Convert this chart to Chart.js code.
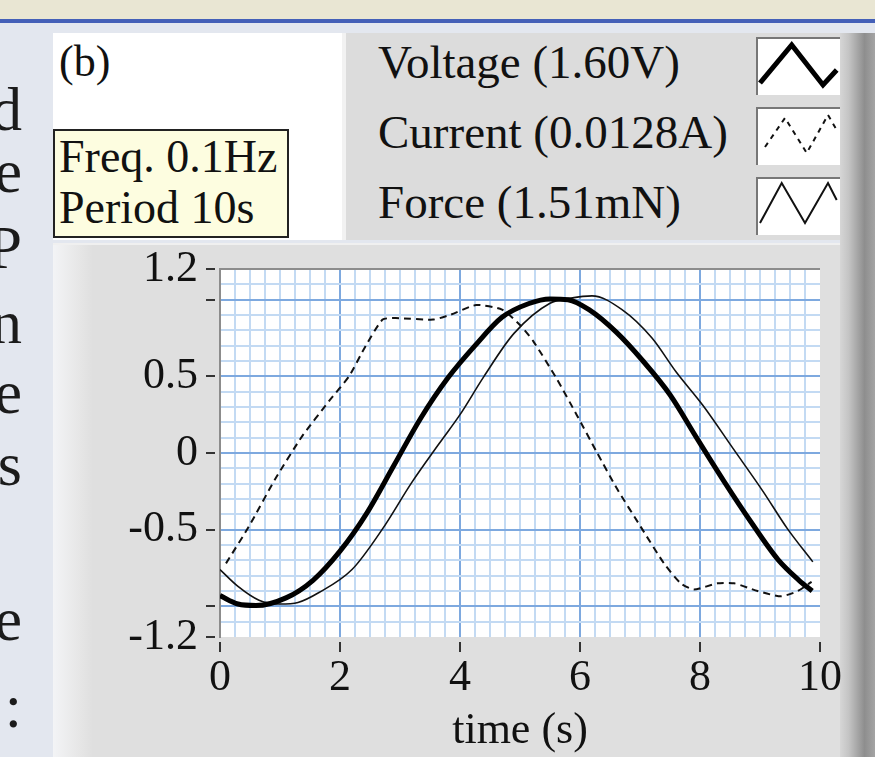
<!DOCTYPE html>
<html>
<head>
<meta charset="utf-8">
<script src="https://cdn.jsdelivr.net/npm/chart.js@4.4.1/dist/chart.umd.min.js"></script>
<style>
    body { margin:0; width:875px; height:757px; overflow:hidden; position:relative; background:#e3e7ef; font-family:"Liberation Serif","Times New Roman",serif; color:#111; }
    .abs { position:absolute; }
    .topband { left:0; top:0; width:875px; height:19px; background:#e9e6d3; }
    .blueline { left:0; top:19px; width:875px; height:4px; background:#4460b8; }
    .side { left:-40px; width:62px; text-align:right; font-size:62px; line-height:62px; color:#1b1b1b; }
    .white { left:53px; top:33px; width:289px; height:207px; background:#fff; }
    .tag { left:59px; top:40px; font-size:44px; line-height:44px; }
    .freq { left:53px; top:129px; width:232px; height:105px; background:#fdfde0; border:2px solid #222; }
    .freq div { position:absolute; left:4px; font-size:46px; line-height:51px; white-space:nowrap; }
    .legend { left:342px; top:33px; width:498px; height:207px; background:#dcdcdc; border-left:4px solid #f2f2f2; box-sizing:border-box; }
    .legtext { left:378px; font-size:47px; line-height:51px; white-space:nowrap; }
    .sample { left:756px; width:82px; height:56px; background:#fff; border-top:2px solid #777; border-left:2px solid #777; }
    .sample svg { position:absolute; left:-2px; top:-2px; overflow:visible; }
    .rbar { left:840px; top:33px; width:35px; height:724px; background:linear-gradient(to right,#d6d6d6 0%,#c4c4c4 25%,#8e8e8e 70%,#a4a4a4 100%); }
    .panel { left:53px; top:243px; width:787px; height:514px; background:linear-gradient(to right,#f3f4f6 0px,#e6e6e6 27px,#dfdfdf 40px); border-top:2px solid #f0f0f0; box-sizing:border-box; }
    #chart { position:absolute; left:53px; top:200px; }
</style>
</head>
<body>
    <div class="abs topband"></div>
    <div class="abs blueline"></div>
    <div id="side"></div>

    <div class="abs white"></div>
    <div class="abs tag">(b)</div>
    <div class="abs freq">
        <div style="top:0px">Freq. 0.1Hz</div>
        <div style="top:51px">Period 10s</div>
    </div>

    <div class="abs legend"></div>
    <div class="abs legtext" style="top:37px">Voltage (1.60V)</div>
    <div class="abs legtext" style="top:107px">Current (0.0128A)</div>
    <div class="abs legtext" style="top:177px">Force (1.51mN)</div>
    <div class="abs sample" style="top:37px"><svg width="84" height="58"><polyline points="4,46 35.7,8 67,48 80.7,33" fill="none" stroke="#000" stroke-width="5"/></svg></div>
    <div class="abs sample" style="top:107px"><svg width="84" height="58"><polyline points="9,40 29,11 50.7,46 72,8 80.7,23" fill="none" stroke="#111" stroke-width="2" stroke-dasharray="5 5"/></svg></div>
    <div class="abs sample" style="top:177px"><svg width="84" height="58"><polyline points="4,46 25.7,6 49,46 72,6 80.7,23" fill="none" stroke="#111" stroke-width="2"/></svg></div>

    <div class="abs rbar"></div>
    <div class="abs panel"></div>
    <canvas id="chart" width="822" height="557"></canvas>

    <script>
        // clipped ends of the slide text on the left edge
        const sideChars = ['d', 'e', 'P', 'n', 'e', 's', 'e', ':'];
        const sideBaselines = [130, 192, 268, 343, 413, 485, 640, 727];

        // readings (time in s, normalised amplitude)
        const timeV = [0, 0.3, 0.6, 1.1, 1.55, 2.0, 2.45, 2.9, 3.35, 3.8, 4.25, 4.7, 5.15, 5.5, 5.8, 6.15, 6.6, 7.05, 7.5, 7.95, 8.4, 8.85, 9.3, 9.65, 9.87];
        const voltage = [-0.93, -0.985, -0.995, -0.945, -0.83, -0.64, -0.39, -0.08, 0.23, 0.49, 0.70, 0.885, 0.975, 1.005, 1.0, 0.935, 0.79, 0.60, 0.38, 0.095, -0.185, -0.45, -0.695, -0.83, -0.9];

        const timeF = [0, 0.3, 0.65, 1.0, 1.3, 1.65, 2.2, 2.7, 3.2, 3.65, 4.0, 4.4, 4.9, 5.5, 5.85, 6.2, 6.7, 7.2, 7.6, 8.05, 8.55, 9.05, 9.45, 9.88];
        const force = [-0.76, -0.87, -0.96, -0.985, -0.975, -0.91, -0.76, -0.50, -0.19, 0.06, 0.25, 0.50, 0.78, 0.977, 1.01, 1.025, 0.935, 0.75, 0.53, 0.31, 0.03, -0.25, -0.49, -0.71];

        const timeC = [0.1, 0.48, 0.92, 1.37, 1.82, 2.15, 2.43, 2.71, 2.93, 3.55, 3.83, 4.27, 4.7, 5.0, 5.22, 5.61, 5.95, 6.28, 6.62, 7.01, 7.4, 7.68, 7.9, 8.29, 8.57, 8.96, 9.35, 9.63, 9.86];
        const current = [-0.72, -0.48, -0.17, 0.11, 0.34, 0.50, 0.70, 0.87, 0.88, 0.87, 0.90, 0.965, 0.935, 0.835, 0.73, 0.485, 0.245, 0.005, -0.235, -0.48, -0.72, -0.85, -0.89, -0.85, -0.85, -0.90, -0.935, -0.90, -0.84];

        const xTickValues = [0, 2, 4, 6, 8, 10];
        const yTickValues = [1.2, 0.5, 0, -0.5, -1.2];
        const yTickLabels = ['1.2', '0.5', '0', '-0.5', '-1.2'];
        const yMarkValues = [1.2, 1.0, 0.5, 0, -0.5, -1.0, -1.2];
        const yMajorGrid = [1.0, 0.5, 0, -0.5, -1.0];

        let side = document.getElementById('side');
        sideChars.forEach((c, i) => {
            let d = document.createElement('div');
            d.className = 'abs side';
            d.style.top = (sideBaselines[i] - 52) + 'px';
            d.textContent = c;
            side.appendChild(d);
        });

        const near = (a, b) => Math.abs(a - b) < 1e-6;
        const pts = (xs, ys) => xs.map((x, i) => ({x: x, y: ys[i]}));

        const plotPlugin = {
            id: 'plotPlugin',
            beforeDraw(chart) {
                const {ctx, chartArea: a} = chart;
                ctx.save();
                ctx.fillStyle = '#ffffff';
                ctx.fillRect(a.left, a.top, a.right - a.left, a.bottom - a.top);
                ctx.restore();
            },
            afterDraw(chart) {
                const {ctx, chartArea: a, scales} = chart;
                ctx.save();
                ctx.strokeStyle = '#333';
                ctx.lineWidth = 2;
                ctx.beginPath();
                yMarkValues.forEach(v => {
                    let y = Math.round(scales.y.getPixelForValue(v));
                    ctx.moveTo(a.left - 14, y);
                    ctx.lineTo(a.left - 5, y);
                });
                xTickValues.forEach(v => {
                    let x = Math.round(scales.x.getPixelForValue(v));
                    ctx.moveTo(x, a.bottom + 5);
                    ctx.lineTo(x, a.bottom + 15);
                });
                ctx.stroke();
                ctx.restore();
            }
        };

        Chart.defaults.font.family = '"Liberation Serif", "Times New Roman", serif';
        Chart.defaults.color = '#111';

        let chart = new Chart(document.getElementById('chart').getContext('2d'), {
            type: 'line',
            data: {
                datasets: [{
                    label: 'Voltage (1.60V)',
                    data: pts(timeV, voltage),
                    borderColor: '#000',
                    borderWidth: 5,
                    cubicInterpolationMode: 'monotone',
                    order: 1
                }, {
                    label: 'Force (1.51mN)',
                    data: pts(timeF, force),
                    borderColor: '#111',
                    borderWidth: 1.6,
                    cubicInterpolationMode: 'monotone',
                    order: 2
                }, {
                    label: 'Current (0.0128A)',
                    data: pts(timeC, current),
                    borderColor: '#111',
                    borderWidth: 2,
                    borderDash: [7, 5],
                    tension: 0.2,
                    order: 3
                }]
            },
            options: {
                responsive: false,
                animation: false,
                devicePixelRatio: 1,
                elements: { point: { radius: 0 } },
                layout: { padding: { left: 0, top: 69, right: 55, bottom: 0 } },
                plugins: { legend: { display: false }, tooltip: { enabled: false } },
                scales: {
                    x: {
                        type: 'linear',
                        min: 0,
                        max: 10,
                        afterBuildTicks: s => {
                            let t = [];
                            for (let i = 0; i <= 40; i++) t.push({value: i / 4});
                            s.ticks = t;
                        },
                        afterFit: s => { s.height = 120; },
                        ticks: {
                            autoSkip: false,
                            maxRotation: 0,
                            padding: 19,
                            font: { size: 44, lineHeight: 1 },
                            callback: v => xTickValues.some(t => near(t, v)) ? String(Math.round(v)) : ''
                        },
                        grid: {
                            drawTicks: false,
                            lineWidth: 2,
                            color: ctx => {
                                if (!ctx.tick) return 'rgba(0,0,0,0)';
                                let v = ctx.tick.value;
                                if (near(v, 0) || near(v, 10)) return 'rgba(0,0,0,0)';
                                return near(v / 2, Math.round(v / 2)) ? '#7ea9df' : '#c3daf3';
                            }
                        },
                        border: { display: false },
                        title: {
                            display: true,
                            text: 'time (s)',
                            font: { size: 44, lineHeight: 1 },
                            padding: { top: 0, bottom: 4 }
                        }
                    },
                    y: {
                        type: 'linear',
                        min: -1.2,
                        max: 1.2,
                        afterBuildTicks: s => {
                            let t = [];
                            for (let i = -12; i <= 12; i++) t.push({value: i / 10});
                            s.ticks = t;
                        },
                        afterFit: s => { s.width = 167; },
                        ticks: {
                            autoSkip: false,
                            padding: 22,
                            font: { size: 44, lineHeight: 1 },
                            callback: v => {
                                let i = yTickValues.findIndex(t => near(t, v));
                                return i >= 0 ? yTickLabels[i] : '';
                            }
                        },
                        grid: {
                            drawTicks: false,
                            lineWidth: 2,
                            color: ctx => {
                                if (!ctx.tick) return 'rgba(0,0,0,0)';
                                let v = ctx.tick.value;
                                if (near(v, 1.2)) return '#8c8c8c';
                                if (near(v, -1.2)) return 'rgba(0,0,0,0)';
                                return yMajorGrid.some(t => near(t, v)) ? '#7ea9df' : '#c3daf3';
                            }
                        },
                        border: { display: true, color: '#8c8c8c', width: 2 }
                    }
                }
            },
            plugins: [plotPlugin]
        });
    </script>
</body>
</html>
